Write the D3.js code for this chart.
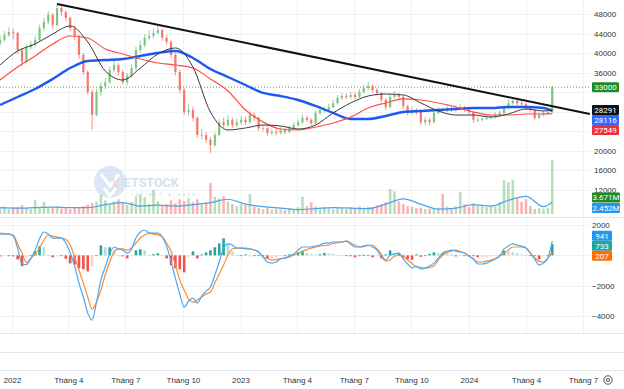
<!DOCTYPE html>
<html>
<head>
<meta charset="utf-8">
<script src="https://cdnjs.cloudflare.com/ajax/libs/d3/7.8.5/d3.min.js"></script>
<style>
  body { margin: 0; background: #fff; }
  svg { font-family: Roboto, Arial, sans-serif; display: block; }
  .axis text { font-size: 8px; fill: #333; }
  .axis path { display: none; }
  .badge text { font-size: 8px; fill: #fff; }
</style>
</head>
<body>
<div id="chart"></div>
<script>
// ---- data (weekly) ----
var startWeek = new Date(2021, 11, 13);
var endWeek = new Date(2024, 4, 14);
var firstOpen = 42000;
var closes = [42700,43700,44300,44100,40600,38200,41200,41800,42700,45100,
  46400,47800,45700,49200,48400,47200,45100,43500,39600,36100,
  32000,27300,32000,33200,34000,36500,37500,36100,34000,35300,
  36900,40600,41600,43100,43500,44100,44700,43100,42300,39600,
  36100,32400,27900,28300,26700,23200,23200,22200,21100,23200,
  25800,25200,26300,25200,25800,26300,25800,27300,26700,24600,
  24600,23600,23800,23600,24200,23800,24600,25200,25800,26700,
  26300,25600,27700,28300,28300,28900,29700,30800,31200,31000,
  31400,31000,32000,32800,33200,32400,31800,30400,28900,31000,
  31400,31000,29100,27900,28300,27900,25800,26300,25800,27700,
  28300,28100,28700,28300,28500,28900,28300,27900,26300,26300,
  26500,26700,26900,27300,27700,28700,29700,30200,29700,29500,
  28700,28300,26700,27300,27700,27900,33000];
var highs = [43500,44500,45200,45000,44300,41000,41800,42500,43400,45800,
  47200,48600,48200,50050,49600,48800,47500,45600,43800,40000,
  36500,32400,32600,34000,34800,37200,38600,38000,36600,35900,
  37600,41300,42600,43900,44600,45000,45600,45000,43700,42600,
  40000,36500,32800,29500,29000,27000,24400,23800,22800,23700,
  26400,26700,27200,26800,26500,27000,26900,28000,27800,27000,
  25300,24900,24500,24300,24800,24600,25100,25800,26400,27400,
  27100,26600,28200,28900,29000,29600,30400,31400,31800,31700,
  32000,31900,32600,33500,34100,33600,32900,32100,30700,31600,
  32200,31900,31300,29400,28900,28700,28100,26900,26700,28200,
  28900,28800,29300,29100,29300,29600,29200,28600,28100,26900,
  27000,27200,27400,27800,28200,29300,30500,30900,30600,30200,
  29800,29000,28500,27800,28200,28400,33200];
var lows = [41500,42300,43300,42800,39800,37300,37800,40700,41300,42400,
  44600,45900,45000,45400,47600,46500,44500,42600,38800,35500,
  31500,24300,27000,31200,32600,33600,36000,35400,33500,33400,
  34900,36500,40000,41200,42600,43000,43800,42500,41600,38900,
  35400,31800,27300,27100,26000,22600,22300,21500,19500,20800,
  23000,24600,24900,24600,24800,25300,25200,25500,26100,24000,
  23900,23000,23200,23100,23300,23300,23500,24300,24900,25500,
  25800,25100,25400,27300,27800,28000,28600,29400,30400,30500,
  30600,30500,30800,31700,32400,31900,31300,29900,28300,28700,
  30600,30400,28500,27200,27400,27300,25200,25300,25200,25600,
  27400,27700,27900,27900,28000,28200,27900,27400,25700,25800,
  26000,26200,26400,26600,27000,27500,28400,29300,29200,29000,
  28300,27800,26200,26400,27000,27400,27700];
var volumes = [1.2,1.5,1.0,1.3, 1.4,1.8,1.2,1.0, 2.9,1.3,2.4,1.5, 1.2,1.6,1.1,1.3,
  1.0,1.4,1.2,1.6, 1.9,2.2,2.5,3.9, 2.8,2.0,2.6,3.0, 2.2,1.8,2.4,3.6,
  4.0,3.4,2.0,4.9, 2.6,1.8,2.0,2.8, 2.2,3.0,2.6,3.2, 2.4,3.0,2.0,2.4,
  6.3,3.5,3.2,3.6, 2.6,2.0,1.6,2.0, 1.8,4.1,1.5,1.2, 1.0,1.2,0.9,1.1,
  1.0,0.8,1.2,0.9, 1.4,3.5,1.6,2.4, 1.5,1.2,1.4,1.1, 1.0,1.3,1.2,1.0,
  1.4,1.2,1.6,1.3, 1.5,1.4,1.8,2.0, 2.4,5.1,4.6,2.6, 2.0,1.6,1.5,1.2,
  1.3,1.0,1.1,1.2, 1.3,4.1,1.5,1.2, 1.6,4.5,2.0,1.4, 2.2,1.8,1.6,1.4,
  1.7,1.5,2.4,6.9, 6.5,7.0,3.2,2.5, 3.0,1.6,1.0,1.2, 1.1,1.3,11.0];

// moving averages sampled every 4 weeks (plus last week)
var maIndex = d3.range(0, 125, 4).concat([126]);
var maFast = [37540,40410,41850,43900,45540,42260,36310,34460,36920,39800,
  41030,37130,27900,24210,24620,25230,25030,24410,25230,27700,
  29750,31180,31590,31390,29750,28110,27280,27280,26870,27490,28520,28110,28291];
var maMid = [34460,37130,39390,41850,43490,43080,40820,39800,38770,37950,
  37540,36920,34670,32210,28310,25850,24410,24210,24820,25640,
  26870,28720,29750,30570,30360,29750,28930,27900,27280,27280,27490,27490,27549];
var maSlow = [29340,30980,32620,34670,36920,38360,38570,38770,39390,40000,
  40410,38980,36720,35080,33440,31800,31180,30360,29130,27700,
  26460,26460,27080,27900,28110,28310,28520,28720,28720,28930,28930,28720,28116];
var volMa = [1.3,1.2,1.3,1.4,1.3,1.3,1.9,2.3,1.6,1.8,1.6,1.9,2.3,3.0,2.0,1.5,1.2,0.9,1.1,1.3,
  1.2,1.1,2.0,3.1,2.0,1.0,1.2,1.9,1.6,2.8,3.6,1.5,2.45];

var macdLine = [1400,1400,1400,1270,480,-570,-610,-220,350,1080,
  1540,1400,1140,1140,1140,810,150,-710,-1830,-2750,
  -3810,-4270,-3080,-1630,-770,90,550,420,350,150,
  420,1140,1540,1670,1470,1470,1470,1210,610,-380,
  -1500,-2550,-3410,-3020,-2820,-3150,-2690,-2360,-2090,-1300,
  -440,480,750,680,480,480,480,420,350,220,
  -110,-440,-510,-440,-240,-180,-50,90,350,550,
  550,550,610,680,810,810,880,880,880,940,
  750,550,550,610,680,550,350,-110,-310,20,
  90,150,-240,-570,-840,-710,-900,-840,-710,-510,
  -180,150,280,350,280,220,150,-50,-240,-570,
  -570,-510,-380,-240,-50,420,610,750,680,610,
  480,150,-240,-640,-510,-180,941];
var signalLine = [1470,1440,1400,1340,750,150,-480,-220,90,480,
  1010,1340,1270,1210,1140,1040,680,-110,-970,-1830,
  -2750,-3540,-3080,-2290,-1300,-440,220,420,420,350,
  480,810,1140,1340,1470,1400,1340,1210,810,280,
  -640,-1630,-2290,-2880,-3080,-2950,-2750,-2550,-2420,-1830,
  -1230,-640,20,420,480,480,420,420,350,220,
  -110,-210,-310,-280,-210,-180,-110,20,150,280,
  380,480,550,610,650,680,780,840,880,940,
  810,680,550,580,650,680,420,90,-380,-310,
  -50,-10,-80,-310,-540,-770,-800,-840,-800,-710,
  -310,20,180,280,350,250,150,-50,-240,-440,
  -440,-380,-310,-210,-50,120,350,550,550,550,
  480,150,-180,-380,-440,-180,207];

var trendStart = 50050, trendEnd = 27500;
var lastPrice = 33000;
var priceTicks = [48000, 44000, 40000, 36000, 32000, 28000, 24000, 20000, 16000, 12000];
var priceTickLabels = [48000, 44000, 40000, 36000, 20000, 16000, 12000]; // others sit under the badges
var macdTicks = [2000, 0, -2000, -4000];
var macdTickLabels = [2000, -2000, -4000];
var timeTicks = [new Date(2022,0,1), new Date(2022,3,1), new Date(2022,6,1), new Date(2022,9,1),
  new Date(2023,0,1), new Date(2023,3,1), new Date(2023,6,1), new Date(2023,9,1),
  new Date(2024,0,1), new Date(2024,3,1), new Date(2024,6,1)];
var timeLabels = ["2022","Tháng 4","Tháng 7","Tháng 10","2023","Tháng 4","Tháng 7","Tháng 10","2024","Tháng 4","Tháng 7"];
var priceBadges = [{v: 33000, t: "33000", c: "#1e8a2a"}, {v: 28291, t: "28291", c: "#111111"},
  {v: 28116, t: "28116", c: "#2f6bff"}, {v: 27549, t: "27549", c: "#f23030"}];
var volBadges = [{v: 3.671, t: "3.671M", c: "#1e8a2a"}, {v: 2.452, t: "2.452M", c: "#2196f3"}];
var macdBadges = [{v: 941, t: "941", c: "#2196f3"}, {v: 733, t: "733", c: "#26a69a"}, {v: 207, t: "207", c: "#ff6d00"}];

// ---- layout ----
var width = 624, height = 389;
var plotRight = 590;
var dates = d3.timeMonday.range(startWeek, endWeek);
var maDates = maIndex.map(i => dates[i]);

var x = d3.scaleTime().domain([new Date(2022,0,1), new Date(2024,0,1)]).range([12, 469]);
var yPrice = d3.scaleLinear().domain([48000, 12000]).range([14, 189.5]);
var yVol = d3.scaleLinear().domain([0, 11]).range([214, 160]);
var yMacd = d3.scaleLinear().domain([2000, -4000]).range([225, 316]);

var svg = d3.select("#chart").append("svg")
  .attr("width", width).attr("height", height);

svg.append("clipPath").attr("id", "clipPrice")
  .append("rect").attr("x", 0).attr("y", 0).attr("width", plotRight).attr("height", 217);
svg.append("clipPath").attr("id", "clipMacd")
  .append("rect").attr("x", 0).attr("y", 218).attr("width", plotRight).attr("height", 115);

/* grid */
var grid = svg.append("g").attr("stroke", "#eef1f6").attr("stroke-width", 1);
grid.selectAll(".vg").data(timeTicks).join("line")
  .attr("x1", d => Math.round(x(d)) + 0.5).attr("x2", d => Math.round(x(d)) + 0.5)
  .attr("y1", 0).attr("y2", 333);
grid.selectAll(".hg").data(priceTicks).join("line")
  .attr("x1", 0).attr("x2", plotRight)
  .attr("y1", d => Math.round(yPrice(d)) + 0.5).attr("y2", d => Math.round(yPrice(d)) + 0.5);
grid.selectAll(".mg").data(macdTicks).join("line")
  .attr("x1", 0).attr("x2", plotRight)
  .attr("y1", d => Math.round(yMacd(d)) + 0.5).attr("y2", d => Math.round(yMacd(d)) + 0.5);

var seps = svg.append("g").attr("stroke", "#e3e6ec");
[217.5, 333.5, 352.5, 370.5].forEach(function(yy) {
  seps.append("line").attr("x1", 0).attr("x2", width).attr("y1", yy).attr("y2", yy);
});

/* watermark */
var wm = svg.append("g").attr("opacity", 0.5);
wm.append("circle").attr("cx", 110).attr("cy", 182).attr("r", 16).attr("fill", "#b9d0ea");
wm.append("path").attr("d", "M101,174 L110,186 L119,174 M104,188 L110,196 L116,188")
  .attr("fill", "none").attr("stroke", "#fff").attr("stroke-width", 3);
var wmt = wm.append("text").attr("x", 112).attr("y", 187)
  .attr("font-size", 12.5).attr("font-weight", "bold").attr("fill", "#aec4dc");
wmt.append("tspan").attr("fill", "#f2a5a5").text("V");
wmt.append("tspan").text("IETSTOCK");
wm.append("text").attr("x", 132).attr("y", 196).attr("font-size", 4.5)
  .attr("letter-spacing", 2.6).attr("fill", "#aab8c8").text("refresh always");

/* volume */
var upCol = "#4caf50", downCol = "#f44336";
var isUp = function(i) { return closes[i] >= (i ? closes[i - 1] : firstOpen); };

var pricePane = svg.append("g").attr("clip-path", "url(#clipPrice)");
pricePane.append("g").selectAll("rect").data(volumes).join("rect")
  .attr("x", (d, i) => x(dates[i]) - 1.3)
  .attr("width", 2.6)
  .attr("y", d => yVol(d))
  .attr("height", d => yVol(0) - yVol(d))
  .attr("fill", (d, i) => isUp(i) ? upCol : downCol)
  .attr("opacity", 0.4);

pricePane.append("path")
  .attr("d", d3.line().x((d, i) => x(maDates[i])).y(d => yVol(d)).curve(d3.curveMonotoneX)(volMa))
  .attr("fill", "none").attr("stroke", "#4da3ee").attr("stroke-width", 1.2);

/* last price line */
pricePane.append("line")
  .attr("x1", 0).attr("x2", plotRight)
  .attr("y1", yPrice(lastPrice)).attr("y2", yPrice(lastPrice))
  .attr("stroke", "#4caf50").attr("stroke-dasharray", "1,2");

/* candles */
var candles = pricePane.append("g").selectAll("g").data(closes).join("g")
  .attr("fill", (d, i) => isUp(i) ? upCol : downCol)
  .attr("stroke", (d, i) => isUp(i) ? upCol : downCol)
  .attr("opacity", 0.72);
candles.append("line")
  .attr("x1", (d, i) => x(dates[i])).attr("x2", (d, i) => x(dates[i]))
  .attr("y1", (d, i) => yPrice(highs[i])).attr("y2", (d, i) => yPrice(lows[i]))
  .attr("stroke-width", 0.8);
candles.append("rect")
  .attr("stroke", "none")
  .attr("x", (d, i) => x(dates[i]) - 1.1)
  .attr("width", 2.2)
  .attr("y", (d, i) => yPrice(Math.max(d, i ? closes[i - 1] : firstOpen)))
  .attr("height", (d, i) => Math.max(0.8, Math.abs(yPrice(d) - yPrice(i ? closes[i - 1] : firstOpen))));

/* moving averages */
var maLine = d3.line().x((d, i) => x(maDates[i])).y(d => yPrice(d)).curve(d3.curveMonotoneX);
pricePane.append("path").attr("d", maLine(maSlow))
  .attr("fill", "none").attr("stroke", "#1f57f0").attr("stroke-width", 2.4);
pricePane.append("path").attr("d", maLine(maMid))
  .attr("fill", "none").attr("stroke", "#ff4a4a").attr("stroke-width", 1.2);
pricePane.append("path").attr("d", maLine(maFast))
  .attr("fill", "none").attr("stroke", "#3a3a3a").attr("stroke-width", 1);

/* trend line */
svg.append("line")
  .attr("x1", x(dates[13])).attr("y1", yPrice(trendStart))
  .attr("x2", x(new Date(2024, 6, 12))).attr("y2", yPrice(trendEnd))
  .attr("stroke", "#111").attr("stroke-width", 2);

/* MACD */
var hist = macdLine.map((d, i) => d - signalLine[i]);
var histColor = function(d, i) {
  var prev = i ? hist[i - 1] : 0;
  if (d >= 0) return d >= prev ? "#26a69a" : "#b2dfdb";
  return d < prev ? "#ef5350" : "#ffcdd2";
};
var macdPane = svg.append("g").attr("clip-path", "url(#clipMacd)");
macdPane.append("g").selectAll("rect").data(hist).join("rect")
  .attr("x", (d, i) => x(dates[i]) - 1.3)
  .attr("width", 2.6)
  .attr("y", d => Math.min(yMacd(d), yMacd(0)))
  .attr("height", d => Math.max(0.8, Math.abs(yMacd(d) - yMacd(0))))
  .attr("fill", histColor);

var mLine = d3.line().x((d, i) => x(dates[i])).y(d => yMacd(d)).curve(d3.curveMonotoneX);
macdPane.append("path").attr("d", mLine(signalLine))
  .attr("fill", "none").attr("stroke", "#ff8a2b").attr("stroke-width", 1.2);
macdPane.append("path").attr("d", mLine(macdLine))
  .attr("fill", "none").attr("stroke", "#4aa8f5").attr("stroke-width", 1.2);

/* axes */
svg.append("g").attr("class", "axis")
  .attr("transform", `translate(${plotRight}, 0)`)
  .call(d3.axisRight(yPrice).tickValues(priceTickLabels).tickSize(0).tickPadding(4).tickFormat(d3.format("d")));
svg.append("g").attr("class", "axis")
  .attr("transform", `translate(${plotRight}, 0)`)
  .call(d3.axisRight(yMacd).tickValues(macdTickLabels).tickSize(0).tickPadding(2).tickFormat(d3.format("d")));
svg.append("g").attr("class", "axis")
  .attr("transform", "translate(0, 374)")
  .call(d3.axisBottom(x).tickValues(timeTicks).tickSize(0).tickPadding(3)
    .tickFormat((d, i) => timeLabels[i]));

/* badges */
function place(items, scale, gap, spread, shift) {
  items.forEach(d => d.y = scale(d.v) + (shift || 0));
  items.sort((a, b) => a.y - b.y);
  if (!spread) {
    for (var i = 1; i < items.length; i++)
      if (items[i].y < items[i - 1].y + gap) items[i].y = items[i - 1].y + gap;
  } else {
    for (var k = 0; k < 60; k++)
      for (var j = 1; j < items.length; j++) {
        var o = items[j - 1].y + gap - items[j].y;
        if (o > 0) { items[j - 1].y -= o / 2; items[j].y += o / 2; }
      }
  }
  return items;
}
function badges(items, w) {
  var g = svg.append("g").attr("class", "badge").selectAll("g").data(items).join("g")
    .attr("transform", d => `translate(592, ${d.y - 5})`);
  g.append("rect").attr("width", w).attr("height", 10).attr("rx", 1).attr("fill", d => d.c);
  g.append("text").attr("x", w / 2).attr("y", 8).attr("text-anchor", "middle").text(d => d.t);
}
badges(place(priceBadges.slice(0, 1), yPrice, 10, false), 27);
badges(place(priceBadges.slice(1), yPrice, 10, false), 27);
badges(place(volBadges, yVol, 10.5, false, 1.5), 28);
badges(place(macdBadges, yMacd, 10, true), 20);

/* settings icon */
svg.append("circle").attr("cx", 608).attr("cy", 380).attr("r", 4.2)
  .attr("fill", "none").attr("stroke", "#555").attr("stroke-width", 1);
svg.append("circle").attr("cx", 608).attr("cy", 380).attr("r", 1.6)
  .attr("fill", "none").attr("stroke", "#555").attr("stroke-width", 1);
</script>
</body>
</html>
